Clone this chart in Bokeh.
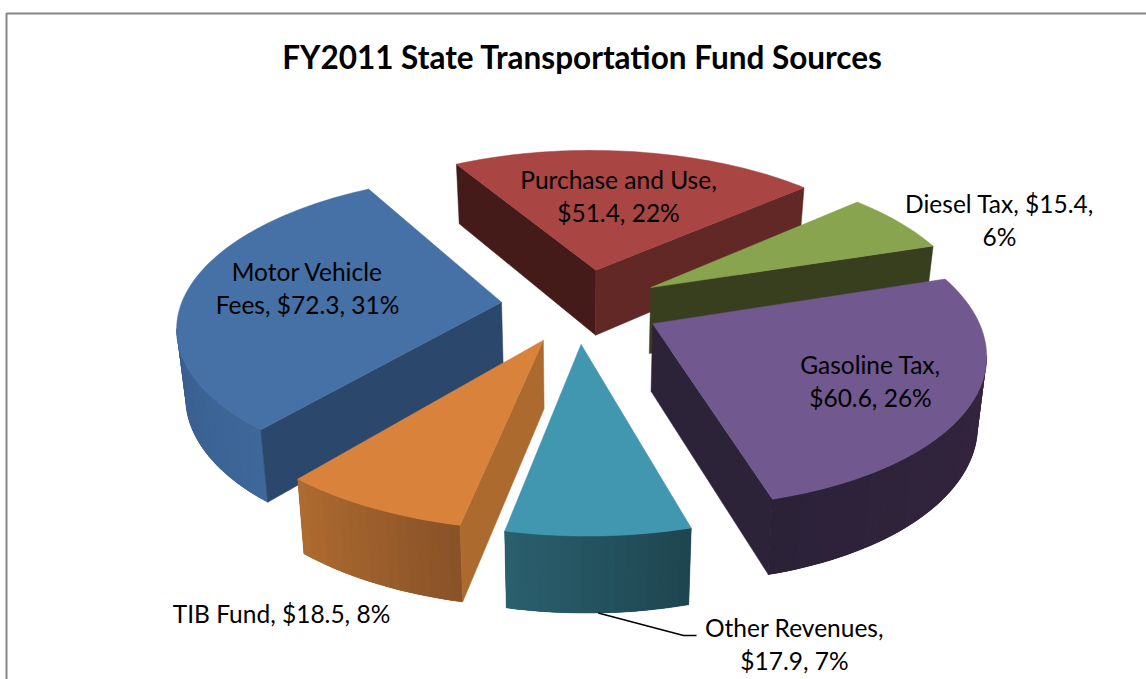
import numpy as np
from bokeh.plotting import figure
from bokeh.models import Range1d
from bokeh.core.properties import value
from bokeh.embed import file_html
from bokeh.resources import INLINE

# ---- data ----
categories = ["Motor Vehicle Fees", "Purchase and Use", "Diesel Tax", "Gasoline Tax", "Other Revenues", "TIB Fund"]
amounts = [72.3, 51.4, 15.4, 60.6, 17.9, 18.5]
percents = [31, 22, 6, 26, 7, 8]
title_text = "FY2011 State Transportation Fund Sources"
label_lines = [
    ["Motor Vehicle", "Fees, $72.3, 31%"],
    ["Purchase and Use,", "$51.4, 22%"],
    ["Diesel Tax, $15.4,", "6%"],
    ["Gasoline Tax,", "$60.6, 26%"],
    ["Other Revenues,", "$17.9, 7%"],
    ["TIB Fund, $18.5, 8%"],
]

# ---- style ----
top_colors = ["#4571A6", "#A94543", "#89A44E", "#71588F", "#4197B0", "#D9823B"]
start_cut = ["#2B486C", "#451B19", "#373F1F", "#2D2339", "#265A69", "#AC6A2E"]
end_cut = ["#2B486C", "#612826", "#373F1F", "#2D2339", "#265A69", "#AC6A2E"]
rim_from = ["#3E6899", "#612826", "#373F1F", "#36243F", "#1E4650", "#8A5227"]
rim_to = ["#385D8D", "#612826", "#373F1F", "#2B2238", "#2A5F6E", "#AE6B30"]
paint_order = [1, 2, 0, 3, 5, 4]
nudge_x = [0, 2.5, 1, -1.5, -4, -2.5]
label_pos = [(307, 271), (618, 179), (999, 203), (870, 364), (794, 627), (281, 613)]
line_step = 33
FONT = "Lato"
LABEL_SIZE = "24.5px"
TITLE_SIZE = "31.5px"

# projection of the tilted pie
A, B, K, CX, CY, EXPLODE, START, SKEW = 320.8, 148.5, 0.155, 581.0, 305.1, 0.251, 220.2, -4.4
DEPTH, DEPTH_K, SHRINK = 66.7, 0.107, 0.978


def project(x, y):
    w = 1 + K * y
    return CX + (A * x + SKEW * y) / w, CY - B * y / w


def drop(x, y):
    sx, sy = project(x, y)
    return CX + (sx - CX) * SHRINK, sy + DEPTH / (1 + DEPTH_K * y)


def mix(c1, c2, t):
    a = [int(c1[i:i + 2], 16) for i in (1, 3, 5)]
    b = [int(c2[i:i + 2], 16) for i in (1, 3, 5)]
    return "#%02x%02x%02x" % tuple(int(round(p + (q - p) * t)) for p, q in zip(a, b))


vals = np.array(amounts)
sweep = vals / vals.sum() * 360
starts = START + np.concatenate([[0], np.cumsum(sweep)[:-1]])

p = figure(width=1146, height=679, x_range=Range1d(0, 1146), y_range=Range1d(679, 0),
           output_backend="svg", toolbar_location=None, min_border=0, outline_line_color=None)
p.axis.visible = False
p.grid.visible = False

# chart frame
p.line([6, 6, 1146], [679, 13, 13], line_color="#868686", line_width=2)

for i in paint_order:
    mid = np.radians(starts[i] + sweep[i] / 2)
    ax, ay = EXPLODE * np.sin(mid), EXPLODE * np.cos(mid)
    ang = np.radians(np.linspace(starts[i], starts[i] + sweep[i], max(8, int(sweep[i] / 1.5))))
    mx = np.concatenate([[ax], ax + np.sin(ang)])
    my = np.concatenate([[ay], ay + np.cos(ang)])
    tx, ty = project(mx, my)
    bx, by = drop(mx, my)
    tx = tx + nudge_x[i]
    bx = bx + nudge_x[i]
    n = len(mx)

    # rim: the part whose top edge runs leftwards on screen is the part one sees
    vis = [j for j in range(1, n - 1) if tx[j + 1] < tx[j]]
    if vis:
        run = vis + [vis[-1] + 1]
        base_c = mix(rim_from[i], rim_to[i], 0.5)
        p.patch(list(tx[run]) + list(bx[run][::-1]), list(ty[run]) + list(by[run][::-1]),
                fill_color=base_c, line_color=base_c, line_width=0.5)
        for b in range(len(run) - 1):
            seg = run[b: b + 3]
            c = mix(rim_from[i], rim_to[i], b / max(1, len(run) - 2))
            p.patch(list(tx[seg]) + list(bx[seg][::-1]), list(ty[seg]) + list(by[seg][::-1]),
                    fill_color=c, line_color=None)

    # radial cut faces
    if tx[1] < tx[0]:
        xs = [tx[0], tx[1], bx[1], bx[0]]
        ys = [ty[0], ty[1], by[1], by[0]]
        p.patch(xs, ys, fill_color=start_cut[i], line_color=start_cut[i], line_width=0.5)
    if tx[0] < tx[n - 1]:
        xs = [tx[n - 1], tx[0], bx[0], bx[n - 1]]
        ys = [ty[n - 1], ty[0], by[0], by[n - 1]]
        p.patch(xs, ys, fill_color=end_cut[i], line_color=end_cut[i], line_width=0.5)

    p.patch(tx, ty, fill_color=top_colors[i], line_color=top_colors[i], line_width=0.5)

# leader of the "Other Revenues" label, from the rim of its slice
o = categories.index("Other Revenues")
om = np.radians(starts[o] + sweep[o] / 2)
oa = np.radians(starts[o] + sweep[o] * 0.5)
lx, ly = drop(EXPLODE * np.sin(om) + np.sin(oa), EXPLODE * np.cos(om) + np.cos(oa))
p.line([float(lx) + nudge_x[o], 683, 696], [float(ly), 635, 635], line_color="#000000", line_width=1.6)

# texts
p.text([582], [56], text=[title_text], text_font=value(FONT), text_font_style="bold",
       text_font_size=TITLE_SIZE, text_color="#000000", text_align="center", text_baseline="middle")
for lines, (lx0, ly0) in zip(label_lines, label_pos):
    p.text([lx0] * len(lines), [ly0 + line_step * q for q in range(len(lines))], text=lines,
           text_font=value(FONT), text_font_size=LABEL_SIZE, text_color="#000000",
           text_align="center", text_baseline="middle")

open("out.html", "w").write(file_html(p, INLINE))
